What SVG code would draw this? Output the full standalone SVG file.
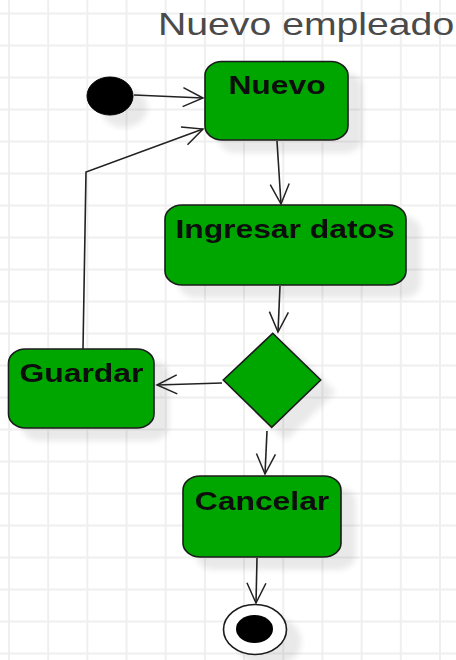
<svg xmlns="http://www.w3.org/2000/svg" width="456" height="660" viewBox="0 0 456 660">
  <defs>
    <pattern id="grid" x="-10.59" y="-2.5" width="39.18" height="32" patternUnits="userSpaceOnUse">
      <path d="M19.59,0 V32 M0,16 H39.18" stroke="#efefef" stroke-width="2" fill="none"/>
    </pattern>
    <filter id="shadow" x="-30%" y="-30%" width="170%" height="170%">
      <feGaussianBlur in="SourceAlpha" stdDeviation="3"/>
      <feOffset dx="14" dy="12" result="off"/>
      <feComponentTransfer><feFuncA type="linear" slope="0.09"/></feComponentTransfer>
      <feMerge><feMergeNode/><feMergeNode in="SourceGraphic"/></feMerge>
    </filter>
    <marker id="open" viewBox="-22 -12 24 24" refX="0" refY="0" markerWidth="24" markerHeight="24" markerUnits="userSpaceOnUse" orient="auto">
      <path d="M-20,-9.5 L0,0 L-20,9.5" fill="none" stroke="#222" stroke-width="1.5"/>
    </marker>
    <style>
      .act { fill: #00a600; stroke: #1a1a1a; stroke-width: 1.6; }
      .lbl { font-family: "Liberation Sans", Arial, sans-serif; font-weight: bold; font-size: 26px; fill: #0a0a0a; text-anchor: middle; }
      .edge { fill: none; stroke: #222; stroke-width: 1.6; marker-end: url(#open); }
      .title { font-family: "Liberation Sans", Arial, sans-serif; font-size: 32px; fill: #4a4a4a; }
    </style>
  </defs>

  <rect width="456" height="660" fill="#ffffff"/>
  <rect width="456" height="660" fill="url(#grid)"/>

  <text class="title" transform="translate(158,35) scale(1.2245,1)">Nuevo empleado</text>

  <g id="start" filter="url(#shadow)">
    <ellipse cx="110" cy="96" rx="23" ry="19" fill="#000" stroke="#000" stroke-width="1"/>
  </g>

  <g id="nuevo" filter="url(#shadow)">
    <rect class="act" x="205" y="61.5" width="143" height="78.5" rx="17" ry="14"/>
    <text class="lbl" transform="translate(277,94) scale(1.2245,1)">Nuevo</text>
  </g>

  <g id="ingresar" filter="url(#shadow)">
    <rect class="act" x="165" y="205" width="241" height="80" rx="17" ry="14"/>
    <text class="lbl" transform="translate(285,238) scale(1.2245,1)">Ingresar datos</text>
  </g>

  <g id="decision" filter="url(#shadow)">
    <polygon class="act" points="272.7,333.3 320.7,380 271.7,427.3 223.3,380"/>
  </g>

  <g id="guardar" filter="url(#shadow)">
    <rect class="act" x="8.5" y="349" width="145.5" height="79" rx="17" ry="14"/>
    <text class="lbl" transform="translate(81.5,382) scale(1.2245,1)">Guardar</text>
  </g>

  <g id="cancelar" filter="url(#shadow)">
    <rect class="act" x="183" y="476" width="158" height="81" rx="17" ry="14"/>
    <text class="lbl" transform="translate(262,510) scale(1.2245,1)">Cancelar</text>
  </g>

  <g id="end" filter="url(#shadow)">
    <ellipse cx="255" cy="629.5" rx="31.5" ry="25" fill="#fff" stroke="#1a1a1a" stroke-width="1.6"/>
    <ellipse cx="254.5" cy="629" rx="18.5" ry="14" fill="#000"/>
  </g>

  <g id="connectors">
    <path class="edge" d="M134,95 L203,98"/>
    <path class="edge" d="M83,349 L86,172 L203,129"/>
    <path class="edge" d="M277,141 L281,204"/>
    <path class="edge" d="M280,286 L278,332"/>
    <path class="edge" d="M222,383 L157,385"/>
    <path class="edge" d="M267,431 L265,474"/>
    <path class="edge" d="M257,558 L256,603"/>
  </g>
</svg>
